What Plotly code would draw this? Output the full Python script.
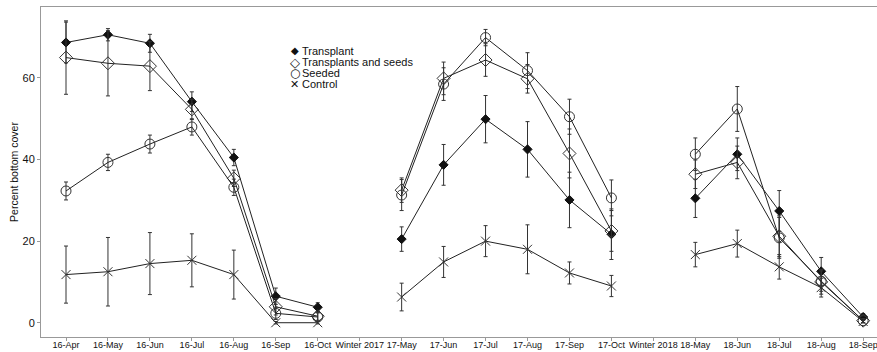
import plotly.graph_objects as go

categories = ["16-Apr", "16-May", "16-Jun", "16-Jul", "16-Aug", "16-Sep", "16-Oct",
              "Winter 2017", "17-May", "17-Jun", "17-Jul", "17-Aug", "17-Sep", "17-Oct",
              "Winter 2018", "18-May", "18-Jun", "18-Jul", "18-Aug", "18-Sep"]

transplant = [68.7, 70.6, 68.5, 54.2, 40.5, 6.5, 3.8, None, 20.5, 38.7, 49.9, 42.5, 30.1, 21.7,
              None, 30.5, 41.3, 27.4, 12.6, 1.4]
transplant_err = [5, 1.5, 2.2, 2.4, 2, 2, 1.1, None, 3, 5, 5.8, 6.8, 6.8, 6.2,
                  None, 4.7, 4, 5, 3.4, 0.8]

trans_seeds = [65.0, 63.6, 62.9, 52.3, 35.4, 3.9, 1.6, None, 32.5, 59.9, 64.4, 59.8, 41.5, 22.5,
               None, 36.4, 39.3, 21.2, 10.0, 0.5]
trans_seeds_err = [9, 8, 6, 2.5, 2, 2, 1, None, 3, 4, 4, 3.5, 6, 5,
                   None, 3.5, 4, 5, 3, 0.5]

seeded = [32.3, 39.3, 43.8, 48.0, 33.2, 2.3, 1.4, None, 31.3, 58.5, 69.9, 61.8, 50.5, 30.6,
          None, 41.3, 52.4, 20.8, 10.2, 0.5]
seeded_err = [2.2, 2, 2.2, 2, 2, 1.5, 1, None, 3.8, 4, 2, 4.4, 4.3, 4.4,
              None, 4, 5.5, 5, 2.5, 0.5]

control = [11.8, 12.5, 14.5, 15.3, 11.8, 0, 0, None, 6.3, 14.9, 20.0, 18.0, 12.2, 9.0,
           None, 16.7, 19.4, 13.7, 8.6, 0.3]
control_err = [7, 8.4, 7.6, 6.5, 6, 0.3, 0.3, None, 3.4, 3.8, 3.8, 6, 2.7, 2.6,
               None, 3, 3.3, 3, 2.3, 0.3]

series_names = ["Transplant", "Transplants and seeds", "Seeded", "Control"]
series_values = [transplant, trans_seeds, seeded, control]
series_errors = [transplant_err, trans_seeds_err, seeded_err, control_err]
legend_glyphs = ["\u25C6", "\u25C7", "\u25CB", "\u2715"]

styles = [
    dict(symbol="diamond", size=7, color="#111111", line=dict(color="#111111", width=1)),
    dict(symbol="diamond-open", size=10, color="#333333", line=dict(color="#333333", width=1)),
    dict(symbol="circle-open", size=10, color="#333333", line=dict(color="#333333", width=1)),
    dict(symbol="x-thin-open", size=9, color="#333333", line=dict(color="#333333", width=1)),
]
glyph_sizes = [10, 13, 12, 11]

fig = go.Figure()
for name, vals, errs, st in zip(series_names, series_values, series_errors, styles):
    fig.add_trace(go.Scatter(
        x=categories, y=vals, name=name, mode="lines+markers",
        line=dict(color="#222222", width=1),
        marker=st,
        error_y=dict(type="data", array=errs, visible=True, color="#333333",
                     thickness=1, width=2),
        connectgaps=False, showlegend=False,
    ))

# legend as text
y_centers = [0.8676, 0.833, 0.7997, 0.7664]
for name, glyph, gs, yc in zip(series_names, legend_glyphs, glyph_sizes, y_centers):
    fig.add_annotation(xref="paper", yref="paper", x=0.3038, y=yc, text=glyph,
                       showarrow=False, xanchor="center", yanchor="middle",
                       font=dict(family="DejaVu Sans", size=gs, color="#111111"))
    fig.add_annotation(xref="paper", yref="paper", x=0.3098, y=yc, text=name,
                       showarrow=False, xanchor="left", yanchor="middle",
                       font=dict(family="Liberation Sans, Arial", size=11, color="#111111"))

fig.update_layout(
    width=877, height=352,
    margin=dict(l=41, r=0, t=7, b=15, autoexpand=False),
    paper_bgcolor="white", plot_bgcolor="white",
    font=dict(family="Liberation Sans, Arial", size=10, color="#111111"),
    showlegend=False,
    xaxis=dict(type="category", categoryorder="array", categoryarray=categories,
               range=[-0.596, 19.33], showgrid=False, zeroline=False,
               showline=True, linecolor="#999999", linewidth=1, mirror=True,
               ticks="outside", ticklen=3, tickcolor="#999999", tickangle=0,
               ticklabelstandoff=-4,
               tickfont=dict(size=9, color="#111111"), automargin=False),
    yaxis=dict(range=[-3.5, 77.4], tickvals=[0, 20, 40, 60], showgrid=False,
               zeroline=False, showline=True, linecolor="#999999", linewidth=1,
               ticks="outside", ticklen=3, tickcolor="#999999",
               tickfont=dict(size=11, color="#111111"),
               title=dict(text="Percent bottom cover", font=dict(size=10.5, color="#111111"),
                          standoff=1),
               automargin=False),
)

fig.write_html("out.html")
